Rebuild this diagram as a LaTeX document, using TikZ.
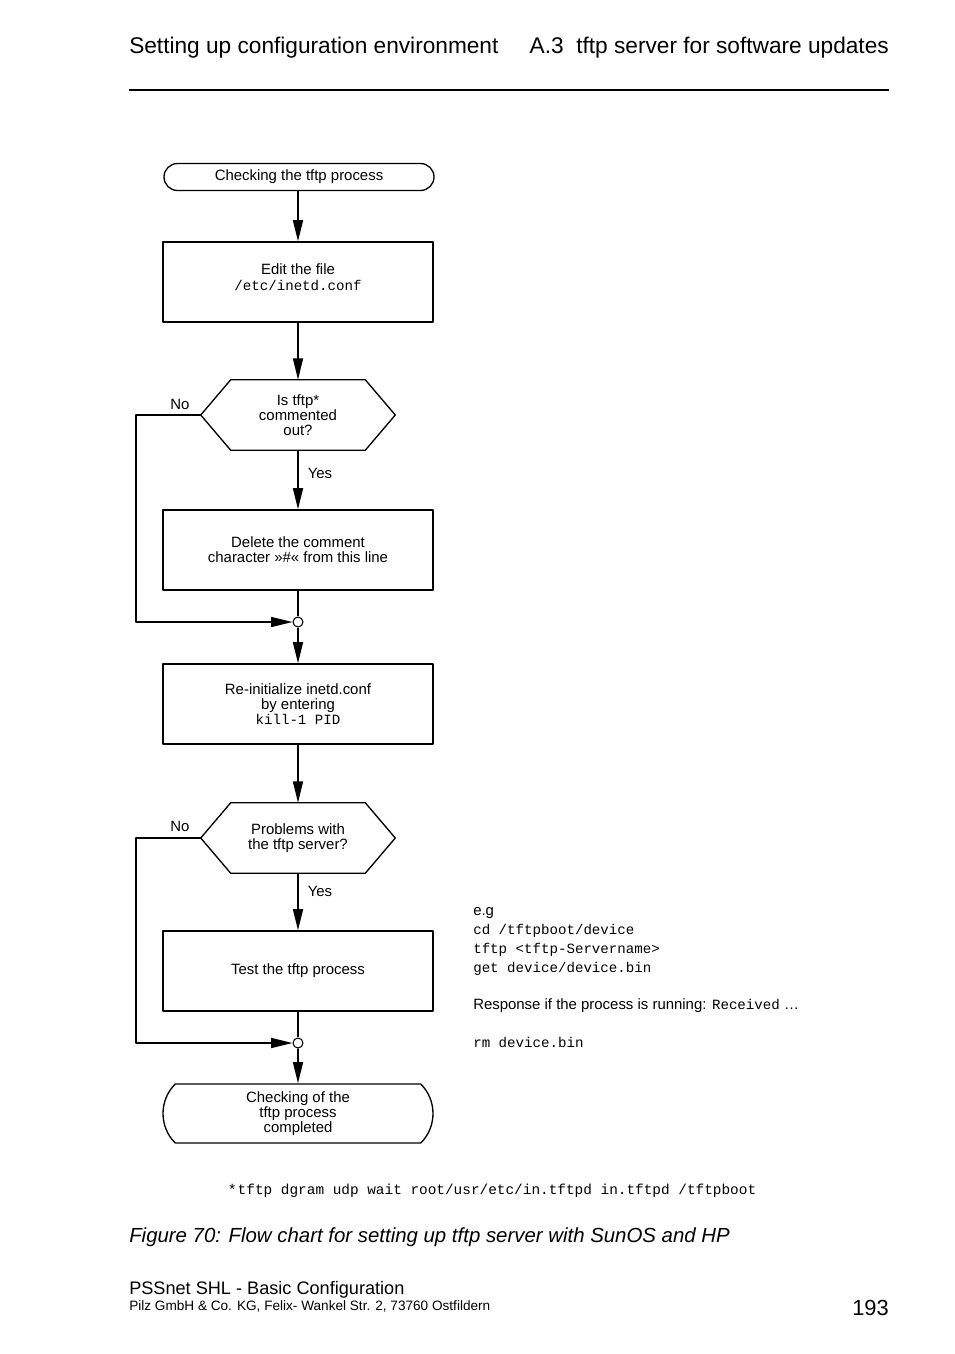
\documentclass[tikz,border=0pt]{standalone}
\usepackage{fontspec}
\setmainfont{Liberation Sans}
\setmonofont{Liberation Mono}
\usetikzlibrary{arrows.meta,shapes.misc}
\newcommand\boxfont{\fontsize{11.2}{11.25}\selectfont}
\newcommand\codefont{\fontsize{10.6}{11.25}\selectfont\ttfamily}
\begin{document}
\begin{tikzpicture}[x=0.75pt, y=-0.75pt, font=\boxfont, line join=round, >={Triangle[length=16pt,width=7.5pt]},
	stepbox/.style={draw, line width=1pt, minimum width=202.5pt, minimum height=60pt, inner sep=0pt, align=center},
	termbox/.style={draw, line width=1pt, rounded rectangle, minimum width=202.5pt, inner sep=0pt, align=center},
	askbox/.style={inner sep=0pt, minimum width=145.5pt, minimum height=52.5pt, align=center},
	flow/.style={->, line width=1.3pt},
	back/.style={->, line width=1pt},
	joint/.style={circle, draw, fill=white, line width=0.8pt, minimum size=7.5pt, inner sep=0pt},
	txt/.style={inner sep=0pt}]
	\useasboundingbox (0,0) rectangle (954,1354);
	% header
	\node[txt, anchor=base west, font=\fontsize{17}{20}\selectfont] (headl) at (129,53) {Setting up configuration environment};
	\node[txt, anchor=base east, font=\fontsize{17}{20}\selectfont] (headr) at (889,53) {A.3\ \ tftp server for software updates};
	\draw[line width=0.8pt] (129,90) -- (889,90);
	% flow chart
	\node[termbox, minimum height=20.25pt] (start) at (299,177) {Checking the tftp process};
	\node[stepbox] (edit) at (298,282) {Edit the file\\[1pt]{\codefont /etc/inetd.conf}\\[-4pt]};
	\node[askbox] (ask1) at (298,415) {Is tftp*\\commented\\out?};
	\node[stepbox] (del) at (298,550) {Delete the comment\\character »\#« from this line};
	\node[joint] (j1) at (298,622) {};
	\node[stepbox] (reinit) at (298,704) {Re-initialize inetd.conf\\by entering\\{\codefont kill-1 PID}};
	\node[askbox] (ask2) at (298,838) {Problems with\\the tftp server?};
	\node[stepbox] (test) at (298,971) {Test the tftp process};
	\node[joint] (j2) at (298,1043) {};
	\node[termbox, minimum height=44.25pt, rounded rectangle arc length=90] (done) at (298,1113.5) {Checking of the\\tftp process\\completed};
	\foreach \q in {ask1,ask2}
		\draw[line width=1pt] (\q.west) -- ([xshift=22.5pt]\q.north west) -- ([xshift=-22.5pt]\q.north east) -- (\q.east) -- ([xshift=-22.5pt]\q.south east) -- ([xshift=22.5pt]\q.south west) -- cycle;
	\draw[flow] (start.south -| edit) -- (edit);
	\draw[flow] (edit) -- (ask1);
	\draw[flow] (ask1) -- (del);
	\draw[line width=1.3pt] (del) -- (j1);
	\draw[flow] (j1) -- (reinit);
	\draw[flow] (reinit) -- (ask2);
	\draw[flow] (ask2) -- (test);
	\draw[line width=1.3pt] (test) -- (j2);
	\draw[flow] (j2) -- (done);
	\coordinate (lx) at (136,0);
	\draw[back] (ask1.west) -- (ask1.west -| lx) |- (j1);
	\draw[back] (ask2.west) -- (ask2.west -| lx) |- (j2);
	\node (no1) at (180,404) {No};
	\node (yes1) at (320,473) {Yes};
	\node (no2) at (180,826) {No};
	\node (yes2) at (320,891) {Yes};
	% notes beside the test step
	\node[txt, anchor=base west] (eg) at (473,915) {e.g};
	\node[txt, anchor=base west, font=\codefont] (cd) at (473,934) {cd /tftpboot/device};
	\node[txt, anchor=base west, font=\codefont] (tf) at (473,953) {tftp <tftp-Servername>};
	\node[txt, anchor=base west, font=\codefont] (get) at (473,972) {get device/device.bin};
	\node[txt, anchor=base west] (resp) at (473,1009) {Response if the process is running: {\codefont Received} …};
	\node[txt, anchor=base west, font=\codefont] (rm) at (473,1047) {rm device.bin};
	% footnote, caption, footer
	\node[txt, anchor=base west] (foot) at (229,1194) {*\kern2pt{\fontsize{10.8}{12}\selectfont\ttfamily tftp dgram udp wait root/usr/etc/in.tftpd in.tftpd /tftpboot}};
	\node[txt, anchor=base west, font=\itshape\fontsize{15.3}{18}\selectfont] (caption) at (129,1242) {Figure 70: Flow chart for setting up tftp server with SunOS and HP};
	\node[txt, anchor=base west, font=\fontsize{13.6}{16}\selectfont] (doc) at (129,1294) {PSSnet SHL - Basic Configuration};
	\node[txt, anchor=base west, font=\fontsize{10.2}{12}\selectfont] (firm) at (129,1310) {Pilz GmbH \& Co. KG, Felix- Wankel Str. 2, 73760 Ostfildern};
	\node[txt, anchor=base east, font=\fontsize{16.4}{19}\selectfont] (page) at (889,1315) {193};
\end{tikzpicture}
\end{document}
